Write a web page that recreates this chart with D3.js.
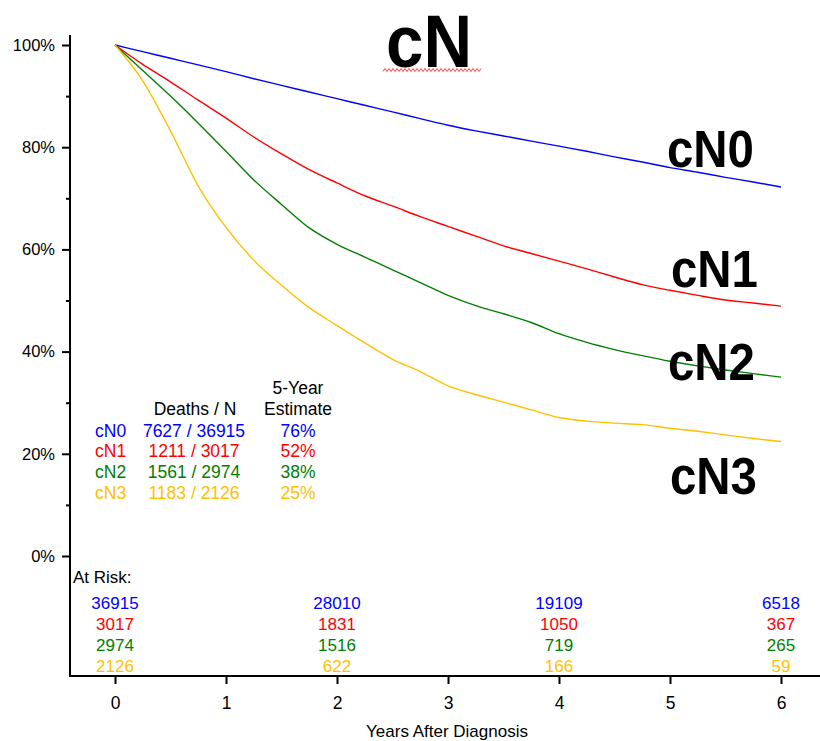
<!DOCTYPE html>
<html>
<head>
<meta charset="utf-8">
<script src="https://cdn.jsdelivr.net/npm/d3@7"></script>
<style>
	body { margin: 0; background: #fff; }
	svg { display: block; font-family: "Liberation Sans", Arial, Helvetica, sans-serif; }
</style>
</head>
<body>
<div id="graphArea"></div>
<script>
//time points (years) the survival curves were read at
var years = [0, 0.25, 0.5, 0.75, 1, 1.25, 1.5, 1.75, 2, 2.25, 2.5, 2.75, 3,
	3.25, 3.5, 3.75, 4, 4.25, 4.5, 4.75, 5, 5.25, 5.5, 5.75, 6]

//survival (%) for each group at the time points above
var cN0Surv = [100, 98.7, 97.4, 96.1, 94.8, 93.4, 92.1, 90.8, 89.5, 88.2, 86.9, 85.6, 84.3,
	83.2, 82.2, 81.2, 80.2, 79.2, 78.1, 77.1, 76.0, 75.1, 74.1, 73.2, 72.2]
var cN1Surv = [100, 96.2, 92.8, 89.2, 85.7, 82.0, 78.7, 75.6, 73.0, 70.5, 68.5, 66.4, 64.5,
	62.6, 60.7, 59.2, 57.7, 56.2, 54.6, 53.1, 52.0, 51.0, 50.1, 49.5, 48.9]
var cN2Surv = [100, 95.0, 90.0, 84.7, 79.2, 73.6, 68.8, 64.2, 61.0, 58.5, 56.0, 53.5, 51.0,
	49.0, 47.4, 45.7, 43.5, 41.8, 40.4, 39.2, 38.1, 37.2, 36.4, 35.7, 35.0]
var cN3Surv = [100, 93.0, 83.2, 72.4, 64.3, 57.9, 53.0, 48.6, 45.1, 41.7, 38.5, 36.1, 33.3,
	31.6, 30.1, 28.6, 27.1, 26.4, 26.0, 25.7, 25.0, 24.4, 23.7, 23.0, 22.4]

//group names, colours and the summary table
var groups = ["cN0", "cN1", "cN2", "cN3"]
var colors = ["#0000ff", "#ff0000", "#008000", "#ffc000"]
var deaths = [7627, 1211, 1561, 1183]
var totals = [36915, 3017, 2974, 2126]
var fiveYear = ["76%", "52%", "38%", "25%"]

//numbers at risk
var riskYears = [0, 2, 4, 6]
var cN0Risk = [36915, 28010, 19109, 6518]
var cN1Risk = [3017, 1831, 1050, 367]
var cN2Risk = [2974, 1516, 719, 265]
var cN3Risk = [2126, 622, 166, 59]

//axis ticks
var xTicks = [0, 1, 2, 3, 4, 5, 6]
var yMajor = [0, 20, 40, 60, 80, 100]
var yMinor = [10, 30, 50, 70, 90]

var survival = [cN0Surv, cN1Surv, cN2Surv, cN3Surv]
var atRisk = [cN0Risk, cN1Risk, cN2Risk, cN3Risk]

var width = 820
var height = 741
var axisX = 70
var axisY = 676

var svg = d3.select("#graphArea")
	.append("svg")
	.attr("width", width)
	.attr("height", height)

var x = d3.scaleLinear()
	.domain([0, 6])
	.range([115, 781])

var y = d3.scaleLinear()
	.domain([0, 100])
	.range([556, 45])

//title with the spell check squiggle under it
svg.append("text")
	.attr("x", 386)
	.attr("y", 67)
	.attr("font-size", 74)
	.attr("font-weight", "bold")
	.attr("textLength", 86)
	.attr("lengthAdjust", "spacingAndGlyphs")
	.text("cN")

var sq = d3.range(383, 482, 2).map(function(px, i) {
	return [px, i % 2 == 0 ? 71.5 : 68.5]
})
svg.append("path")
	.attr("d", d3.line()(sq))
	.attr("fill", "none")
	.attr("stroke", "#ff4040")
	.attr("stroke-width", 1)

//y axis, major ticks with labels and minor ticks without
svg.append("g")
	.attr("transform", "translate(" + axisX + ",0)")
	.call(d3.axisLeft(y)
		.tickValues(yMajor)
		.tickSize(8)
		.tickPadding(7)
		.tickFormat(function(d) { return d + "%" }))
	.call(function(g) { g.select(".domain").remove() })
	.call(function(g) {
		g.selectAll("line").attr("stroke-width", 2)
		g.selectAll("text")
			.attr("font-family", '"Liberation Sans", Arial, sans-serif')
			.attr("font-size", 16.5)
	})

svg.append("g")
	.attr("transform", "translate(" + axisX + ",0)")
	.call(d3.axisLeft(y)
		.tickValues(yMinor)
		.tickSize(4)
		.tickFormat(""))
	.call(function(g) { g.select(".domain").remove() })
	.call(function(g) { g.selectAll("line").attr("stroke-width", 2) })

//x axis
svg.append("g")
	.attr("transform", "translate(0," + axisY + ")")
	.call(d3.axisBottom(x)
		.tickValues(xTicks)
		.tickSize(8)
		.tickPadding(13)
		.tickFormat(d3.format("d")))
	.call(function(g) { g.select(".domain").remove() })
	.call(function(g) {
		g.selectAll("line").attr("stroke-width", 2)
		g.selectAll("text")
			.attr("font-family", '"Liberation Sans", Arial, sans-serif')
			.attr("font-size", 17.5)
	})

//axis lines
svg.append("line")
	.attr("x1", axisX)
	.attr("x2", axisX)
	.attr("y1", 35)
	.attr("y2", axisY + 1)
	.attr("stroke", "#000")
	.attr("stroke-width", 2)
svg.append("line")
	.attr("x1", axisX - 1)
	.attr("x2", width)
	.attr("y1", axisY)
	.attr("y2", axisY)
	.attr("stroke", "#000")
	.attr("stroke-width", 2)

svg.append("text")
	.attr("x", 447)
	.attr("y", 737)
	.attr("text-anchor", "middle")
	.attr("font-size", 17)
	.text("Years After Diagnosis")

//survival curves
var line = d3.line()
	.curve(d3.curveMonotoneX)
	.x(function(d) { return x(d.t) })
	.y(function(d) { return y(d.s) })

for(i = 0; i < groups.length; i++) {
	var pts = years.map(function(t, j) {
		return { t: t, s: survival[i][j] }
	})
	svg.append("path")
		.datum(pts)
		.attr("d", line)
		.attr("fill", "none")
		.attr("stroke", colors[i])
		.attr("stroke-width", 1.4)
}

//big labels at the end of each curve
var labelY = [167, 287, 380, 494]
var labelX = [667, 671, 668, 670]
for(i = 0; i < groups.length; i++) {
	svg.append("text")
		.attr("x", labelX[i])
		.attr("y", labelY[i])
		.attr("font-size", 51)
		.attr("font-weight", "bold")
		.attr("textLength", 87)
		.attr("lengthAdjust", "spacingAndGlyphs")
		.text(groups[i])
}

//summary table
var tbl = svg.append("g").attr("font-size", 17.5)
tbl.append("text").attr("x", 298).attr("y", 394).attr("text-anchor", "middle").text("5-Year")
tbl.append("text").attr("x", 298).attr("y", 415).attr("text-anchor", "middle").text("Estimate")
tbl.append("text").attr("x", 195).attr("y", 415).attr("text-anchor", "middle").text("Deaths / N")

for(i = 0; i < groups.length; i++) {
	var rowY = 436.5 + i * 20.8
	tbl.append("text").attr("x", 95).attr("y", rowY)
		.attr("fill", colors[i]).text(groups[i])
	tbl.append("text").attr("x", 194).attr("y", rowY).attr("text-anchor", "middle")
		.attr("fill", colors[i]).text(deaths[i] + " / " + totals[i])
	tbl.append("text").attr("x", 298).attr("y", rowY).attr("text-anchor", "middle")
		.attr("fill", colors[i]).text(fiveYear[i])
}

//at risk table
var risk = svg.append("g").attr("font-size", 17)
risk.append("text").attr("x", 73).attr("y", 583).text("At Risk:")

for(i = 0; i < groups.length; i++) {
	risk.selectAll(".r" + i)
		.data(atRisk[i])
		.enter()
		.append("text")
		.attr("x", function(d, j) { return x(riskYears[j]) })
		.attr("y", 609 + i * 21)
		.attr("text-anchor", "middle")
		.attr("fill", colors[i])
		.text(function(d) { return d })
}
</script>
</body>
</html>
